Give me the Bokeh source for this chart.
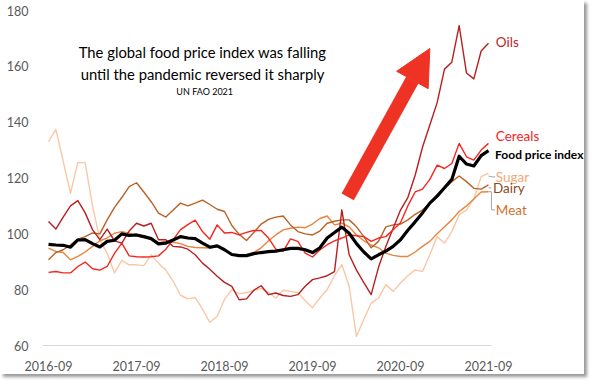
from bokeh.plotting import figure
from bokeh.models import Label, Arrow, NormalHead, FixedTicker
from bokeh.embed import file_html
from bokeh.resources import INLINE

# ---- data (FAO indices, monthly 2016-09 .. 2021-09) ----
tick_labels = ["2016-09", "2017-09", "2018-09", "2019-09", "2020-09", "2021-09"]
months = list(range(61))

food_price_index = [96.2, 96.0, 95.9, 95.2, 97.8, 97.9, 96.5, 95.3, 97.3, 97.7,
                    100.0, 99.4, 99.6, 99.0, 98.3, 96.4, 96.7, 97.8, 99.0, 98.5,
                    98.3, 96.7, 95.2, 95.7, 94.3, 92.6, 92.2, 92.2, 92.9, 93.3,
                    93.6, 93.8, 94.3, 94.8, 94.8, 94.3, 93.3, 95.0, 98.5, 100.5,
                    102.4, 100.2, 96.5, 93.5, 91.0, 92.5, 93.8, 95.5, 97.9, 101.3,
                    104.3, 107.5, 111.0, 113.5, 116.5, 119.5, 127.8, 125.0, 124.3, 128.0,
                    129.8]
oils = [104.4, 101.7, 106.0, 110.0, 111.9, 107.5, 101.5, 97.9, 101.7, 97.5,
        96.7, 101.0, 103.8, 102.8, 103.8, 97.9, 97.9, 95.5, 95.3, 94.5,
        92.5, 89.5, 87.3, 84.8, 82.6, 81.2, 76.4, 76.7, 79.8, 81.4,
        78.2, 78.8, 77.9, 77.6, 78.2, 81.2, 83.6, 84.2, 85.0, 86.5,
        108.6, 92.5, 87.0, 82.5, 78.2, 88.0, 95.5, 102.0, 108.5, 113.0,
        121.0, 131.0, 139.0, 147.0, 159.0, 161.5, 174.6, 157.6, 155.5, 165.5,
        168.3]
cereals = [86.2, 86.5, 86.0, 86.0, 88.3, 89.9, 87.5, 87.0, 88.3, 93.0,
           96.7, 92.1, 91.8, 91.7, 91.8, 92.1, 94.5, 97.9, 101.5, 103.3,
           104.9, 100.8, 98.1, 103.2, 100.3, 100.5, 99.6, 100.5, 101.2, 101.2,
           98.5, 94.5, 93.7, 98.2, 97.3, 93.1, 91.7, 94.2, 96.1, 97.5,
           98.5, 99.6, 99.3, 99.0, 97.3, 98.5, 99.0, 101.5, 104.0, 110.0,
           115.0, 116.0, 119.5, 124.6, 123.4, 125.2, 132.4, 127.6, 126.4, 130.0,
           132.4]
sugar = [133.0, 137.4, 126.0, 114.5, 125.6, 125.4, 110.0, 97.9, 93.0, 86.0,
         90.5, 88.9, 88.9, 88.6, 92.5, 89.5, 87.0, 83.0, 78.0, 76.7,
         77.2, 73.0, 68.3, 70.5, 76.5, 80.0, 78.5, 79.0, 79.7, 80.4,
         79.0, 77.0, 79.8, 79.4, 79.0, 76.0, 73.5, 77.0, 80.0, 85.0,
         89.0, 81.2, 63.3, 69.3, 75.2, 77.0, 81.8, 79.4, 82.4, 85.0,
         87.1, 86.5, 92.5, 99.0, 96.7, 100.8, 106.8, 108.6, 112.4, 120.5,
         121.7]
dairy = [90.7, 93.3, 94.3, 96.0, 98.1, 99.0, 100.3, 100.0, 105.0, 109.5,
         113.0, 116.9, 118.3, 115.0, 111.5, 107.4, 106.0, 108.5, 111.0, 110.0,
         111.0, 112.1, 110.5, 108.8, 108.0, 103.0, 99.8, 97.6, 100.5, 103.5,
         105.2, 106.0, 106.4, 103.2, 100.8, 100.0, 99.6, 101.0, 103.8, 104.5,
         105.0, 105.0, 102.5, 99.0, 95.0, 97.3, 102.5, 103.2, 103.5, 105.0,
         107.0, 108.5, 111.0, 114.0, 116.3, 118.7, 120.7, 118.7, 116.3, 116.0,
         117.5]
meat = [94.9, 93.7, 93.3, 90.7, 91.9, 93.5, 95.5, 97.5, 98.5, 100.2,
        100.8, 100.2, 99.3, 98.7, 98.2, 96.7, 97.3, 97.0, 96.5, 95.5,
        95.1, 95.0, 94.9, 95.5, 94.3, 92.5, 92.5, 92.5, 93.3, 95.0,
        97.5, 99.6, 101.4, 102.0, 102.4, 102.2, 103.5, 105.5, 106.4, 103.2,
        103.8, 102.5, 99.6, 97.5, 96.0, 95.0, 93.1, 92.3, 91.9, 91.9,
        93.5, 95.5, 97.3, 100.0, 102.5, 105.0, 108.0, 110.0, 112.5, 115.0,
        115.1]

series_names = ["Sugar", "Meat", "Dairy", "Oils", "Cereals", "Food price index"]
label_y = [120.4, 108.6, 116.4, 168.6, 135.0, 128.3]

FONT = "Lato"
PX_PER_MONTH = 7.333
LEFT = 42

p = figure(width=584, height=374, output_backend="svg", toolbar_location=None,
           x_range=(-0.82, -0.82 + (584 - LEFT) / PX_PER_MONTH), y_range=(60, 180),
           min_border_left=LEFT, min_border_right=0, min_border_top=10,
           min_border_bottom=29)
p.outline_line_color = None
p.grid.grid_line_color = None
p.styles = {"box-shadow": "3px 3px 3px #9a9a9a"}

# axes
p.xaxis.ticker = FixedTicker(ticks=[0, 12, 24, 36, 48, 60])
p.xaxis.major_label_overrides = {i * 12: t for i, t in enumerate(tick_labels)}
p.xaxis.bounds = (-0.82, 60.4)
p.yaxis.ticker = FixedTicker(ticks=[60, 80, 100, 120, 140, 160, 180])
for ax in (p.xaxis, p.yaxis):
    ax.major_tick_line_color = None
    ax.minor_tick_line_color = None
    ax.major_label_text_color = "#595959"
    ax.major_label_text_font = FONT
    ax.major_label_text_font_size = "12.5px"
p.yaxis.axis_line_color = None
p.xaxis.axis_line_color = "#d9d9d9"
p.xaxis.axis_line_width = 1
p.xaxis.major_label_standoff = 9
p.yaxis.major_label_standoff = 8

data = {"Sugar": sugar, "Meat": meat, "Dairy": dairy, "Oils": oils,
        "Cereals": cereals, "Food price index": food_price_index}
line_colors = {"Sugar": "#F8C8A6", "Meat": "#E8843C", "Dairy": "#BA6226",
               "Oils": "#B81F1F", "Cereals": "#F5261E", "Food price index": "#000000"}
label_colors = {"Sugar": "#F2A877", "Meat": "#D2722E", "Dairy": "#8A4A1E",
                "Oils": "#B81F1F", "Cereals": "#F5261E", "Food price index": "#000000"}
widths = {"Sugar": 1.4, "Meat": 1.4, "Dairy": 1.4, "Oils": 1.4, "Cereals": 1.4,
          "Food price index": 3.2}

# small grey leader lines from line ends to the lower labels
p.multi_line(xs=[[60.0, 60.5, 60.9], [60.0, 60.4], [60.0, 60.4, 60.4, 60.9]],
             ys=[[sugar[-1] - 1.0, label_y[0], label_y[0]],
                 [dairy[-1] - 1.0, label_y[2]],
                 [meat[-1], meat[-1], label_y[1], label_y[1]]],
             line_color="#A6A6A6", line_width=1)

for name in series_names:
    p.line(months, data[name], line_color=line_colors[name], line_width=widths[name],
           line_join="round")

for name, ly in zip(series_names, label_y):
    bold = name == "Food price index"
    p.add_layout(Label(x=60.6 if name == "Dairy" else (60.9 if bold else 61.0), y=ly,
                       text=name, text_color=label_colors[name], text_font=FONT,
                       text_font_size="12px" if bold else "13.5px",
                       text_baseline="middle",
                       text_font_style="bold" if bold else "normal"))

# big arrow
p.add_layout(Arrow(x_start=40.8, y_start=113.2, x_end=52.0, y_end=166.4,
                   line_color="#EE3325", line_width=14,
                   end=NormalHead(size=36, fill_color="#EE3325", line_color="#EE3325")))

# title
p.add_layout(Label(x=21.0, y=165.2, text="The global food price index was falling",
                   text_font=FONT, text_font_size="14.8px", text_align="center",
                   text_baseline="middle", text_color="#000000"))
p.add_layout(Label(x=21.0, y=157.1, text="until the pandemic reversed it sharply",
                   text_font=FONT, text_font_size="14.8px", text_align="center",
                   text_baseline="middle", text_color="#000000"))
p.add_layout(Label(x=21.3, y=151.0, text="UN FAO 2021",
                   text_font=FONT, text_font_size="9px", text_align="center",
                   text_baseline="middle", text_color="#000000"))

open("out.html", "w").write(file_html(p, INLINE))
